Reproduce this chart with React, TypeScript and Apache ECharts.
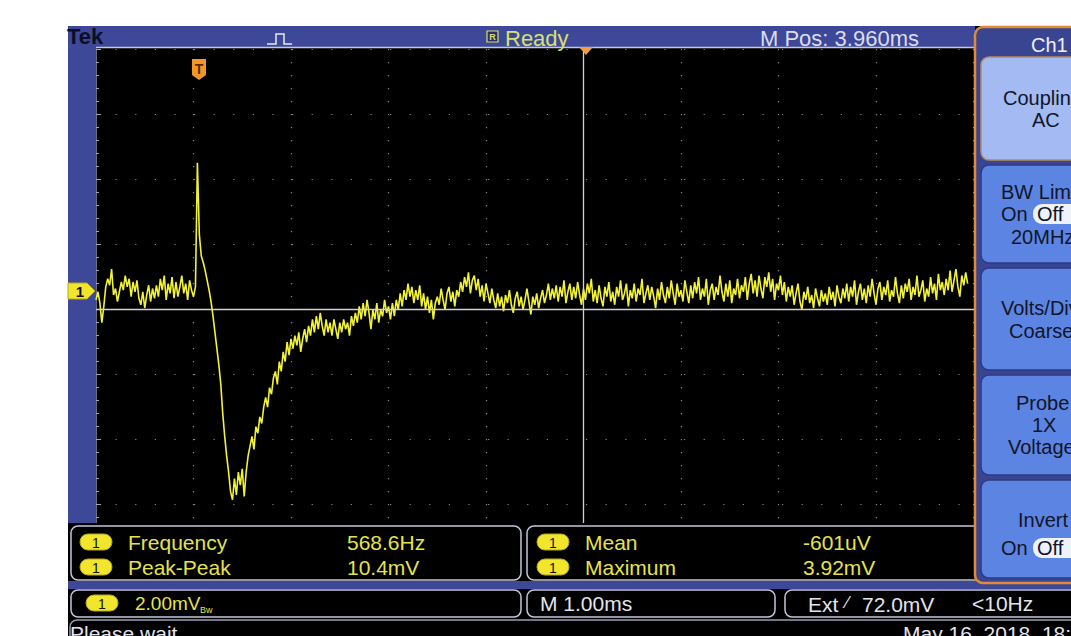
import React, { useEffect, useRef } from "react";
import * as echarts from "echarts";

// Time base: ms relative to the trigger point, 1 ms/div
const sampleStart = -1.04;
const sampleStep = 0.02;
// Channel 1 samples in mV (2 mV/div)
const preTrigger = [
  -0.3, -0.05, -0.4, -1.0, -0.5,
  0.1, 0.35, 0.15, 0.65,
  -0.15, 0.05, -0.35, -0.05,
  0.25, 0.0, 0.45, 0.1, 0.35, -0.2, 0.25, -0.05, 0.3, -0.25,
  -0.45, -0.05, -0.55, -0.15, 0.15, -0.35, 0.05, -0.25,
  0.15, -0.2, 0.35, 0.0, 0.45, -0.3, 0.2, -0.1, 0.4, -0.25,
  0.25, -0.2, 0.1, 0.45, -0.1, 0.2, -0.3, 0.3, 0.0, -0.2, 0.1,
];
const pulse = [
  3.92, 1.7, 1.05, 0.85, 0.6, 0.3, 0.0, -0.35, -0.8, -1.3,
  -1.8, -2.3, -2.9, -3.8, -4.5, -5.1, -5.6, -6.2, -6.45, -5.8,
  -6.3, -5.6, -6.0, -5.5, -6.35, -5.6, -5.1, -4.8, -4.5, -4.9,
  -4.2, -4.4, -3.9, -4.1, -3.6, -3.3, -3.6, -3.0, -3.2, -2.7,
  -2.5, -2.9, -2.2, -2.5, -1.9, -2.2, -1.6, -2.0, -1.5, -1.8,
  -1.4, -1.7, -1.3, -1.9, -1.5, -1.2, -1.6, -1.1, -1.4, -0.9,
  -1.3, -0.8, -1.2, -0.7, -1.1, -1.4, -0.9, -1.3, -1.0, -1.4,
  -0.9, -1.2, -1.5, -1.0, -1.3, -0.9, -1.2, -1.0, -1.4, -0.8,
  -1.1, -0.7, -1.0, -0.5, -0.9, -0.4, -0.8, -0.3, -0.7, -1.2,
  -0.6, -0.9, -0.4, -1.0, -0.6, -0.8, -0.3, -0.7, -0.5, -0.9,
  -0.4, -0.8, -0.3, -0.6, -0.1, -0.5, 0.0, -0.3, 0.2, -0.2,
  0.1, -0.4, 0.0, -0.3, 0.15, -0.5, -0.1, -0.6, -0.2, -0.7,
  -0.3, -0.9, -0.4, -0.2,
];
const tail = [
  -0.45, 0.05, -0.3, -0.6, -0.1, 0.1, -0.35, -0.05, -0.5, 0.0,
  -0.2, 0.25, -0.05, 0.4, 0.1, 0.55, -0.1, 0.3, 0.45, 0.0,
  0.35, -0.2, 0.15, -0.35, 0.2, -0.1, -0.4, 0.05, -0.3, -0.55,
  -0.1, -0.5, -0.2, -0.65, -0.15, -0.4, 0.0, -0.45, -0.7, -0.25,
  -0.05, -0.5, -0.2, -0.6, -0.3, 0.05, -0.35, -0.75, -0.2, -0.45,
  -0.1, -0.55, -0.25, 0.0, -0.4, -0.15, 0.2, -0.3, 0.05, -0.25,
  0.15, -0.35, 0.1, -0.2, 0.3, -0.4, -0.05, 0.2, -0.3, 0.1,
  -0.25, 0.25, -0.15, -0.45, 0.05, -0.3, 0.2, -0.1, 0.35, -0.35,
  0.0, -0.4, 0.15, -0.25, -0.5, 0.1, -0.2, 0.25, -0.35, -0.05,
  -0.45, 0.1, -0.2, 0.3, -0.3, -0.1, 0.2, -0.5, 0.0, -0.25,
  0.2, -0.35, 0.05, -0.15, 0.35, -0.4, -0.1, 0.15, -0.3, 0.1,
  -0.2, -0.55, 0.05, -0.3, 0.25, -0.15, -0.4, 0.1, -0.25, 0.3,
  -0.1, -0.45, 0.2, -0.2, 0.0, -0.35, 0.3, -0.05, -0.4, 0.15,
  -0.25, 0.25, -0.1, 0.4, -0.3, 0.05, -0.2, 0.35, -0.45, 0.0,
  0.2, -0.3, 0.1, -0.15, 0.45, -0.05, -0.35, 0.2, -0.2, 0.3,
  -0.4, 0.05, -0.15, 0.35, -0.25, 0.15, -0.05, 0.4, -0.3, 0.2,
  0.5, -0.1, 0.3, -0.2, 0.45, 0.05, -0.25, 0.4, 0.1, 0.55,
  -0.05, 0.35, -0.3, 0.2, 0.0, 0.45, -0.15, 0.25, -0.35, 0.1,
  -0.2, 0.15, -0.45, -0.1, 0.2, -0.35, -0.6, -0.05, -0.3, 0.1,
  -0.4, -0.15, -0.55, 0.05, -0.25, -0.5, 0.0, -0.35, -0.1, -0.45,
  0.1, -0.3, -0.05, -0.5, 0.15, -0.2, -0.4, 0.05, -0.25, 0.2,
  -0.35, 0.1, -0.2, 0.3, -0.45, -0.05, 0.2, -0.3, 0.05, -0.4,
  0.15, -0.2, 0.35, -0.1, -0.45, 0.05, 0.25, -0.3, 0.1, -0.15,
  0.3, -0.35, 0.0, -0.2, 0.4, -0.1, -0.4, 0.15, -0.25, 0.2,
  -0.05, 0.35, -0.3, 0.1, -0.15, 0.45, -0.2, 0.0, 0.3, -0.35,
  0.05, -0.2, 0.4, -0.1, 0.2, -0.3, 0.5, 0.0, 0.25, -0.15,
  0.35, 0.0, 0.6, -0.05, 0.3, 0.65, 0.1, -0.2, 0.45, 0.15,
  0.55, 0.2,
];

const measureLabelsLeft = ["Frequency", "Peak-Peak"];
const measureValuesLeft = ["568.6Hz", "10.4mV"];
const measureLabelsRight = ["Mean", "Maximum"];
const measureValuesRight = ["-601uV", "3.92mV"];

const FONT = '"Liberation Sans", Arial, sans-serif';
const BLUE = "#3d4898";
const YEL = "#e4e44c";
const WHITE = "#e4e4ee";

function txt(x: number, y: number, text: string, o: any = {}) {
  const size = o.size ?? 21;
  const align = o.align ?? "left";
  return {
    type: "text",
    x,
    y,
    z: o.z ?? 110,
    silent: true,
    style: {
      text,
      fill: o.color ?? YEL,
      font: `${o.weight ?? "normal"} ${size}px ${FONT}`,
      align,
      textAlign: align,
      verticalAlign: "middle",
      textVerticalAlign: "middle",
    },
  };
}
function box(x: number, y: number, w: number, h: number, o: any = {}) {
  return {
    type: "rect",
    z: o.z ?? 100,
    silent: true,
    shape: { x, y, width: w, height: h, r: o.r ?? 0 },
    style: {
      fill: o.fill ?? "none",
      stroke: o.stroke ?? "none",
      lineWidth: o.lw ?? 1,
    },
  };
}
function pill(x: number, y: number, z = 111) {
  return [
    box(x, y, 32, 16, { r: 8, fill: "#f2e62c", stroke: "#b8a818", lw: 1, z }),
    txt(x + 16, y + 8.5, "1", { color: "#111", size: 14, align: "center", z: z + 1 }),
  ];
}

export default function App() {
  const ref = useRef<HTMLDivElement>(null);
  useEffect(() => {
    if (!ref.current) return;
    const chart = echarts.init(ref.current, undefined, { renderer: "svg" });
    const samples = [...preTrigger, ...pulse, ...tail];
    const trace = samples.map((v, i) => [sampleStart + i * sampleStep, v]);

    const g: any[] = [];
    // backgrounds
    g.push(box(68, 26, 1003, 610, { fill: "#000", z: -10 }));
    g.push(box(68, 26, 907, 21, { fill: BLUE, z: -9 }));
    g.push(box(68, 47, 28, 477, { fill: BLUE, z: -9 }));
    g.push({ type: "line", z: 5, silent: true, shape: { x1: 96, y1: 47.5, x2: 975, y2: 47.5 }, style: { stroke: "#c6c8dc", lineWidth: 1.5 } });
    // top bar content
    g.push(txt(67, 36, "Tek", { color: "#0c0e26", weight: "bold", size: 22, z: 20 }));
    g.push({ type: "polyline", z: 20, silent: true, shape: { points: [[267, 44], [276, 44], [276, 34], [284, 34], [284, 44], [292, 44]] }, style: { stroke: "#e8e8f0", lineWidth: 1.5, fill: "none" } });
    g.push(box(487, 31, 11, 11, { fill: "#2a3060", stroke: "#d8e070", lw: 1.2, z: 20 }));
    g.push(txt(492.5, 36.8, "R", { color: "#d8e070", size: 9, align: "center", weight: "bold", z: 21 }));
    g.push(txt(505, 38, "Ready", { color: "#d8e070", size: 22, z: 20 }));
    g.push(txt(760, 38, "M Pos: 3.960ms", { color: "#dcdcf0", size: 22, z: 20 }));

    // markers
    g.push({ type: "polygon", z: 30, silent: true, shape: { points: [[579, 47], [593, 47], [586, 55]] }, style: { fill: "#f0a040" } });
    g.push({ type: "polygon", z: 30, silent: true, shape: { points: [[192, 59], [206, 59], [206, 75], [199, 80], [192, 75]] }, style: { fill: "#f29628" } });
    g.push(txt(199, 69, "T", { color: "#5a2a00", size: 14, weight: "bold", align: "center", z: 31 }));
    g.push({ type: "polygon", z: 30, silent: true, shape: { points: [[68, 283], [87, 283], [95, 291], [87, 299], [68, 299]] }, style: { fill: "#f2e62c", stroke: "#b8a818", lineWidth: 1 } });
    g.push(txt(80, 291.5, "1", { color: "#111", size: 15, weight: "bold", align: "center", z: 31 }));

    // readout area
    g.push(box(68, 523, 1003, 113, { fill: "#000", z: 100 }));
    g.push(box(68, 581, 1003, 8, { fill: BLUE, z: 101 }));
    g.push(box(71, 526, 450, 54, { r: 7, stroke: "#c4c6dc", lw: 1.5, z: 102 }));
    g.push(box(527, 526, 470, 54, { r: 7, stroke: "#c4c6dc", lw: 1.5, z: 102 }));
    g.push(box(71, 590, 450, 27, { r: 7, stroke: "#c4c6dc", lw: 1.5, z: 102 }));
    g.push(box(527, 590, 248, 27, { r: 7, stroke: "#c4c6dc", lw: 1.5, z: 102 }));
    g.push(box(785, 590, 300, 27, { r: 7, stroke: "#c4c6dc", lw: 1.5, z: 102 }));
    g.push(box(70, 620, 1010, 40, { r: 7, stroke: "#9a9cb4", lw: 1.5, z: 102 }));

    measureLabelsLeft.forEach((l, i) => {
      const y = 542 + i * 25;
      g.push(...pill(80, y - 8));
      g.push(txt(128, y, l, { z: 112 }));
      g.push(txt(347, y, measureValuesLeft[i], { z: 112 }));
    });
    measureLabelsRight.forEach((l, i) => {
      const y = 542 + i * 25;
      g.push(...pill(537, y - 8));
      g.push(txt(585, y, l, { z: 112 }));
      g.push(txt(803, y, measureValuesRight[i], { z: 112 }));
    });
    g.push(...pill(86, 595));
    g.push(txt(135, 603, "2.00mV", { size: 19, z: 112 }));
    g.push(txt(200, 610, "Bw", { size: 9, z: 112 }));
    g.push(txt(540, 603, "M 1.00ms", { color: WHITE, z: 112 }));
    g.push(txt(808, 604, "Ext", { color: WHITE, z: 112 }));
    g.push(txt(846, 602, "\u2044", { color: WHITE, size: 17, z: 112 }));
    g.push(txt(862, 604, "72.0mV", { color: WHITE, z: 112 }));
    g.push(txt(972, 603, "<10Hz", { color: WHITE, z: 112 }));
    g.push(txt(70, 633, "Please wait", { color: WHITE, z: 112 }));
    g.push(txt(903, 633, "May 16, 2018  18:", { color: WHITE, z: 112 }));

    // side menu
    g.push(box(975, 27, 110, 556, { r: 8, fill: "#3a4592", stroke: "#e08a3a", lw: 2.5, z: 120 }));
    g.push(txt(1031, 45, "Ch1", { color: "#f0f0f8", size: 20, z: 125 }));
    const btns = [[57, 103], [165, 98], [268, 102], [375, 100], [480, 98]];
    btns.forEach(([y, h], i) => {
      g.push(box(981, y, 104, h, { r: 8, fill: i === 0 ? "#a3baf3" : "#5c84e2", stroke: i === 0 ? "#b98a60" : "#2b3a86", lw: 1.5, z: 121 }));
    });
    const dark = "#10152a";
    const m = (x: number, y: number, t: string) => g.push(txt(x, y, t, { color: dark, size: 20, z: 125 }));
    m(1003, 98, "Coupling");
    m(1032, 120, "AC");
    m(1001, 192, "BW Limit");
    m(1001, 214, "On");
    g.push(box(1033, 204, 50, 20, { r: 9, fill: "#eef2fb", z: 124 }));
    m(1037, 214, "Off");
    m(1011, 237, "20MHz");
    m(1001, 308, "Volts/Div");
    m(1009, 331, "Coarse");
    m(1016, 403, "Probe");
    m(1032, 425, "1X");
    m(1008, 447, "Voltage");
    m(1018, 520, "Invert");
    m(1001, 548, "On");
    g.push(box(1033, 538, 50, 20, { r: 9, fill: "#eef2fb", z: 124 }));
    m(1037, 548, "Off");

    const gridColor = "#858585";
    chart.setOption({
      animation: false,
      backgroundColor: "#ffffff",
      grid: { left: 96, top: 49, width: 980, height: 520, containLabel: false },
      xAxis: [
        { type: "value", min: -1.04, max: 8.96, show: false },
        {
          type: "value", min: 0, max: 10, interval: 1, position: "top",
          axisLine: { show: false },
          axisLabel: { show: false },
          axisTick: { show: true, inside: true, length: 5, lineStyle: { color: "#a8a8a8" } },
          minorTick: { show: true, splitNumber: 5, length: 3, lineStyle: { color: "#a8a8a8" } },
          splitLine: { show: true, lineStyle: { color: gridColor, width: 1.2, type: [1.2, 11.8] } },
        },
      ],
      yAxis: [
        { type: "value", min: -8.58, max: 7.42, show: false },
        {
          type: "value", min: 0, max: 8, interval: 1, position: "left",
          axisLine: { show: true, lineStyle: { color: "#6a6a7a", width: 1 } },
          axisLabel: { show: false },
          axisTick: { show: true, inside: true, length: 5, lineStyle: { color: "#a8a8a8" } },
          minorTick: { show: true, splitNumber: 5, length: 3, lineStyle: { color: "#a8a8a8" } },
          splitLine: { show: true, lineStyle: { color: gridColor, width: 1.2, type: [1.2, 18.4] } },
        },
      ],
      series: [
        {
          type: "line", xAxisIndex: 1, yAxisIndex: 1, data: [[5, 4]], symbol: "none",
          lineStyle: { opacity: 0 }, z: 1, silent: true,
          markLine: {
            silent: true, symbol: ["none", "none"], label: { show: false },
            lineStyle: { color: "#d2d2d2", type: "solid", width: 1.3 },
            data: [{ xAxis: 5 }, { yAxis: 4 }],
          },
        },
        {
          type: "line", xAxisIndex: 0, yAxisIndex: 0, data: trace,
          symbol: "none", showSymbol: false, z: 3, silent: true,
          lineStyle: { color: "#f2f236", width: 1.6 },
        },
      ],
      graphic: { elements: g },
    });
    return () => chart.dispose();
  }, []);
  return (
    <div
      ref={ref}
      style={{ position: "fixed", left: 0, top: 0, width: 1071, height: 636 }}
    />
  );
}
